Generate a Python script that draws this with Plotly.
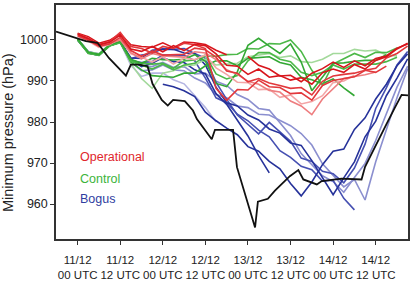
import plotly.graph_objects as go

# ---------------- data ----------------
hours3 = list(range(0, 94, 3))  # forecast hours since 11/12 00 UTC (3-hourly)

tick_hours = [0, 12, 24, 36, 48, 60, 72, 84]
tick_labels = ["11/12<br>00 UTC", "11/12<br>12 UTC", "12/12<br>00 UTC", "12/12<br>12 UTC",
               "13/12<br>00 UTC", "13/12<br>12 UTC", "14/12<br>00 UTC", "14/12<br>12 UTC"]
y_ticks = [960, 970, 980, 990, 1000]

# observed (best track) minimum pressure
obs_hours = [-6.1, -2.45, 2.3, 5.6, 8.8, 13.6, 15.0, 17.3, 19.7, 21.1, 23.7, 25.4, 26.9, 30.2,
             32.5, 33.6, 37.8, 38.7, 43.8, 44.9, 50.0, 50.8, 53.6, 55.6, 58.4, 59.8, 62.2, 63.6,
             67.4, 68.8, 74.4, 80.0, 81.0, 84.7, 87.1, 89.4, 91.3, 93.1]
obs_pres = [1002.0, 1001.0, 999.7, 999.3, 995.6, 991.3, 994.0, 994.0, 993.6, 989.3, 985.4, 984.0,
            985.4, 985.1, 982.8, 980.7, 975.8, 978.1, 978.1, 969.0, 954.3, 960.6, 961.3, 963.3,
            965.6, 966.8, 968.3, 966.0, 964.8, 965.6, 966.2, 966.0, 969.1, 975.7, 979.6, 983.5,
            986.6, 986.5]

N = None
# Operational runs
op1 = [1001.4, 1000.3, 998.8, 999.4, 1001.2, 997.8, 997.2, 998.4, 997.1, 998.6, 997.4, 998.9, 998.6, 996.6, 993.8, 993.6,
       991.6, 992.9, 990.9, 991.3, 990.2, 990.8, 989.2, 992.0, 992.9, 992.1, 994.0, 992.9, 995.0, 995.9, 997.8, 999.2]
op2 = [1001.0, 999.9, 998.5, 999.0, 1000.6, 997.4, 996.0, 997.3, 996.3, 996.4, 996.5, 998.0, 997.6, 995.8, 992.4, 991.9,
       989.8, 990.6, 989.5, 988.9, 988.2, 988.4, 986.6, 989.9, 991.2, 991.6, 991.9, 992.6, 993.1, 995.6, 996.7, 998.5]
op3 = [1001.5, 1000.4, 998.9, 999.6, 1001.8, 998.4, 997.9, 996.8, 998.4, 997.9, 999.2, 998.8, 997.9, 988.2, 985.3, 987.9,
       987.8, 990.2, 988.6, 988.4, 986.9, 987.1, 985.3, 988.9, 990.1, 990.5, 991.0, 992.6, 992.1, 993.6, N, N]
op4 = [1001.2, 1000.0, 998.4, 999.1, 1000.0, 996.9, 995.4, 996.7, 996.1, 995.9, 995.8, 997.1, 996.8, 995.2, 992.7, 991.6,
       989.9, 989.2, 987.7, 987.3, 985.1, 983.9, 981.8, 985.6, 988.1, 990.6, 991.1, 991.5, 992.2, N, N, N]
op5 = [1000.9, 999.7, 998.2, 998.9, 1000.3, 996.6, 995.8, 994.6, 995.9, 994.1, 995.6, 995.2, 996.3, 993.2, 991.6, 989.7,
       989.6, 987.9, 988.0, 986.0, 986.6, 984.4, 985.0, 986.4, 989.6, 990.0, 991.4, N, N, N, N, N]
op6 = [1001.6, 1000.8, 999.2, 999.9, 1001.5, 998.8, 998.4, 998.2, 999.3, 998.1, 999.5, 999.3, 998.9, 997.5, 996.4, N,
       N, N, N, N, N, N, N, N, N, N, N, N, N, N, N, N]
op7 = [N, N, N, N, N, N, N, N, N, N, N, N, N, N, N, N,
       996.0, 993.8, 992.9, 991.2, 991.4, 989.8, 991.9, 993.0, 994.6, 993.3, 994.9, 993.7, 995.5, 996.1, 998.0, 999.0]

# Control runs
ctl1 = [1000.2, 997.0, 996.4, 998.8, 999.6, 995.3, 994.3, 995.5, 995.2, 995.1, 995.3, 996.4, 994.8, 989.4, 988.6, 992.2,
        998.7, 1000.4, 998.5, 996.7, 999.0, 994.6, 987.6, 990.9, 994.3, 994.4, 994.8, 995.0, 995.0, 996.4, N, N]
ctl2 = [1000.0, 996.8, 996.2, 998.5, 999.3, 994.8, 993.9, 992.9, 994.1, 992.7, 993.9, 994.3, 996.1, 996.0, 996.4, 996.5,
        997.9, 997.8, 999.1, 999.0, 1000.0, 997.2, 992.6, 989.0, 994.1, 995.5, 996.7, 995.7, 997.0, 996.9, 998.0, N]
ctl3 = [1000.1, 996.9, 996.5, 998.7, 999.5, 994.6, 992.7, 991.3, 991.1, 990.9, 991.9, 991.9, 993.7, 994.9, 994.9, 993.7,
        995.5, 995.7, 995.9, 994.5, 993.9, 990.9, 990.3, 989.3, 990.5, 988.3, 986.4, N, N, N, N, N]
ctl4 = [1000.3, 997.1, 996.6, 998.9, 999.8, 994.2, 990.6, 988.2, 991.9, 992.5, 993.7, 993.9, 995.3, 993.9, 994.1, 994.3,
        995.9, 996.3, 996.7, 995.7, 996.1, 994.7, 994.5, 995.3, 996.7, 996.7, 997.7, 997.3, 997.5, 996.3, 996.1, N]
ctl5 = [1000.0, 996.7, 996.3, 998.6, 999.4, 995.0, 994.3, 994.1, 994.3, 993.1, 994.9, 995.1, 996.3, 991.7, 990.5, 991.3,
        994.9, 996.9, 996.9, 995.3, 994.7, 992.1, 991.3, 992.1, 993.9, 992.9, 994.1, 994.1, 994.1, 994.7, 995.8, N]

# Bogus runs
bog1 = [1000.2, 997.0, 996.4, 998.8, 999.6, 995.6, 995.5, 997.5, 997.7, 997.7, 996.8, 996.7, 993.9, 988.5, 984.7, 983.9,
        981.7, 980.5, 978.3, 977.3, 974.9, 974.3, 970.6, 966.6, 962.3, 966.4, 970.3, 976.4, 980.2, 986.4, 990.7, 995.4]
bog2 = [N, N, N, N, N, N, N, N, 989.2, 988.6, 987.6, 986.2, 982.4, 980.3, 978.5, 976.9,
        974.0, 972.9, 970.4, 968.6, 965.0, 962.0, 965.4, 969.6, 972.9, 973.4, 978.2, 981.0, 985.6, 989.2, 993.7, 996.6]
bog3 = [1000.0, 996.8, 996.2, 998.6, 999.4, 995.0, 994.5, 994.7, 996.3, 996.3, 996.3, 994.9, 990.7, 985.9, 984.7, 981.9,
        980.3, 978.0, 976.4, 973.0, 971.4, 969.2, 968.4, 965.6, 965.8, 961.4, 958.6, N, N, N, N, N]
bog4 = [1000.1, 996.9, 996.3, 998.7, 999.5, 994.6, 992.5, 992.7, 993.9, 992.7, 992.5, 990.7, 989.5, 986.7, 985.9, 983.9,
        983.5, 981.9, 981.7, 980.3, 979.1, 977.2, 974.4, 969.8, 967.0, 964.2, 966.0, 961.0, 970.3, 978.3, 985.9, 993.0]
bog5 = [1000.2, 997.1, 996.5, 998.9, 999.7, 995.2, 993.5, 994.3, 995.7, 994.7, 994.5, 992.7, 991.7, 986.9, 984.3, 980.6,
        976.6, 971.8, 967.6, N, N, N, N, N, N, N, N, N, N, N, N, N]
bog6 = [1000.0, 996.8, 996.3, 998.6, 999.4, 995.4, 996.3, 996.7, 997.9, 997.7, 997.9, 996.7, 995.5, 989.7, 985.5, 981.7,
        979.5, 977.1, 979.9, 977.5, 975.3, 971.2, 970.4, 968.0, 967.4, 965.2, 968.8, 974.6, 983.3, 988.3, 993.9, 997.2]
bog7 = [1000.1, 997.0, 996.5, 998.6, 999.4, 993.8, 991.1, 991.9, 991.9, 990.3, 989.3, 986.3, 983.5, 980.0, N, N,
        N, N, N, N, N, N, N, N, N, N, N, N, N, N, N, N]
bog8 = [1000.2, 997.1, 996.6, 998.8, 999.6, 995.0, 993.7, 993.5, 994.5, 993.3, 993.5, 991.7, 991.9, 989.9, 988.9, 986.7,
        985.5, 983.3, 982.9, 979.9, 976.7, 972.3, 969.5, 966.9, 965.5, 962.9, 966.5, 969.9, 975.5, 981.9, 988.5, 993.6]

# ---------------- styling ----------------
RED_D, RED_M, RED_L, RED_P = "#d8151c", "#e2383c", "#ee7d7f", "#f3a5a6"
GRN_D, GRN_M, GRN_L = "#33a835", "#4cb848", "#a3d99b"
BLU_D, BLU_M, BLU_L, BLU_P = "#26329a", "#4650b2", "#8b8fcf", "#b4b5e2"

series = [
    (bog7, BLU_P), (bog8, BLU_L), (bog4, BLU_L), (bog6, BLU_M), (bog3, BLU_M),
    (bog5, BLU_D), (bog1, BLU_D), (bog2, BLU_D),
    (ctl4, GRN_L), (ctl5, GRN_M), (ctl3, GRN_D), (ctl2, GRN_M), (ctl1, GRN_D),
    (op5, RED_P), (op4, RED_L), (op6, RED_D), (op3, RED_M), (op2, RED_M), (op7, RED_D), (op1, RED_D),
]

fig = go.Figure()
for vals, col in series:
    fig.add_trace(go.Scatter(x=hours3, y=vals, mode="lines", line=dict(color=col, width=1.6),
                             connectgaps=False, hoverinfo="skip", showlegend=False))
fig.add_trace(go.Scatter(x=obs_hours, y=obs_pres, mode="lines", line=dict(color="#111111", width=1.8),
                         hoverinfo="skip", showlegend=False))

axis_common = dict(showline=True, linecolor="#333333", linewidth=1.5, mirror=True, ticks="outside",
                   ticklen=4, tickwidth=1.2, tickcolor="#333333", showgrid=False, zeroline=False)

fig.update_layout(
    width=414, height=284,
    margin=dict(l=56, r=6, t=3, b=37),
    paper_bgcolor="white", plot_bgcolor="white", showlegend=False,
    font=dict(family="Liberation Sans, Arial, sans-serif", color="#222222"),
    xaxis=dict(range=[-6.1, 93.1], tickvals=tick_hours, ticktext=tick_labels,
               tickfont=dict(size=11.5), ticklabelstandoff=5, **axis_common),
    yaxis=dict(range=[951.5, 1008.5], tickvals=y_ticks, tickfont=dict(size=12.5), **axis_common),
)

fig.add_annotation(text="Minimum pressure (hPa)", textangle=-90, xref="paper", yref="paper",
                   x=(7.5 - 56) / 352, y=(247 - 136) / 244, xanchor="center", yanchor="middle",
                   showarrow=False, font=dict(size=14.5, color="#222222"))

legend_items = [("Operational", "#e0262c", 162.0), ("Control", "#3cb43c", 184.5), ("Bogus", "#2f3d9f", 205.5)]
for txt, col, ypx in legend_items:
    fig.add_annotation(text=txt, xref="paper", yref="paper", x=(77.7 - 56) / 352, y=(247 - ypx) / 244,
                       xanchor="left", yanchor="middle", showarrow=False, font=dict(size=12.5, color=col))

fig.write_html("out.html", config={"displayModeBar": False},
               post_script="document.body.style.margin='0';document.body.style.overflow='hidden';")
